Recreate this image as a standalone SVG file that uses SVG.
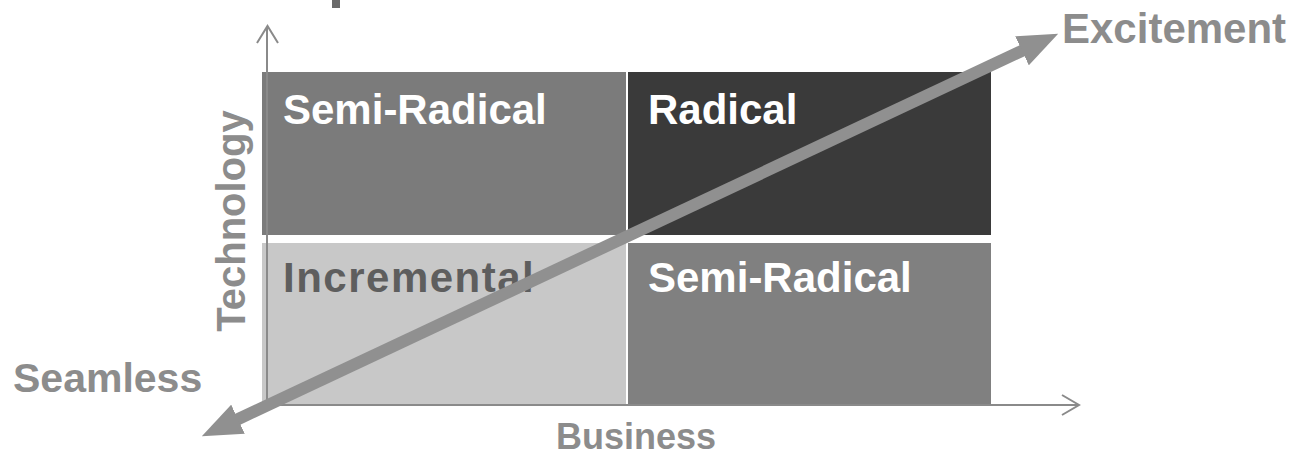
<svg xmlns="http://www.w3.org/2000/svg" width="1293" height="456" viewBox="0 0 1293 456">
<style>
.lbl{font-family:"Liberation Sans",Arial,sans-serif;font-weight:bold;font-size:42px}
.white{fill:#ffffff}
.axis-t{fill:#8c8c8c}
.axis{stroke:#8a8a8a;stroke-width:2;fill:none}
.diag{stroke:#909090;stroke-width:12;fill:none}
</style>
<defs>
<marker id="head" viewBox="0 0 40 32" refX="2" refY="16" markerWidth="40" markerHeight="32" markerUnits="userSpaceOnUse" orient="auto-start-reverse">
<path d="M0,0 L40,16 L0,32 z" fill="#909090"/>
</marker>
</defs>
<rect width="1293" height="456" fill="#ffffff"/>
<rect x="332" y="0" width="8" height="8" fill="#6a6a6a"/>
<g id="q-semi-radical-top">
<rect x="262" y="72" width="364" height="163" fill="#7b7b7b"/>
<text class="lbl white" x="283" y="124">Semi-Radical</text>
</g>
<g id="q-radical">
<rect x="628" y="72" width="363" height="163" fill="#3a3a3a"/>
<text class="lbl white" x="648" y="124">Radical</text>
</g>
<g id="q-incremental">
<rect x="262" y="243" width="364" height="162" fill="#c8c8c8"/>
<text class="lbl" x="283" y="292" fill="#5e5e5e" letter-spacing="1.5">Incremental</text>
</g>
<g id="q-semi-radical-bottom">
<rect x="628" y="243" width="363" height="162" fill="#808080"/>
<text class="lbl white" x="648" y="292">Semi-Radical</text>
</g>
<g id="connectors">
<path class="axis" d="M267,405 L267,27"/>
<path class="axis" d="M257,43 L267.5,26 L278,43"/>
<path class="axis" d="M262,405 L1079,405"/>
<path class="axis" d="M1062,395 L1079,405 L1062,415"/>
<path class="diag" d="M236.2,420 L1023.8,50" marker-start="url(#head)" marker-end="url(#head)"/>
</g>
<g id="labels">
<text class="lbl axis-t" x="1062" y="43">Excitement</text>
<text class="lbl axis-t" x="13" y="392" style="font-size:41px">Seamless</text>
<text class="lbl axis-t" x="636" y="449" text-anchor="middle" style="font-size:36px">Business</text>
<text class="lbl axis-t" transform="translate(245,221) rotate(-90)" text-anchor="middle" style="font-size:40px">Technology</text>
</g>
</svg>
